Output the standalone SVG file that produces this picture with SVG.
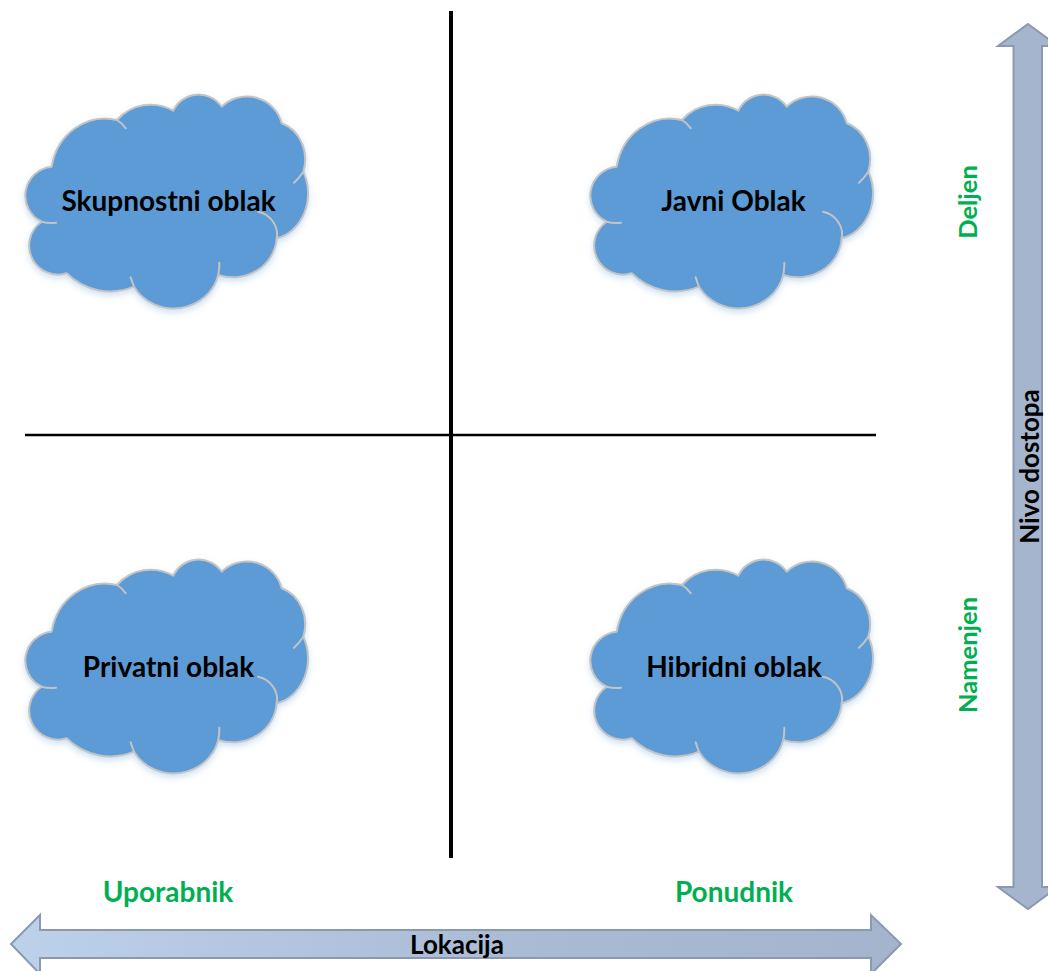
<svg xmlns="http://www.w3.org/2000/svg" width="1048" height="971" viewBox="0 0 1048 971">
<style>
.cl{fill:#5b9bd5;stroke:#c4c4c4;stroke-width:2;stroke-linejoin:round}
.in{fill:none;stroke:#c4c4c4;stroke-width:2;stroke-linecap:round}
.t{font-family:Lato,"Liberation Sans",sans-serif;font-weight:700;font-size:28px;fill:#000;text-anchor:middle}
.s{font-size:26px}
.v{font-size:25.500px}
.g{fill:#00b050}
.ar{stroke:#8a99b0;stroke-width:2;stroke-linejoin:miter}
.ln{stroke:#000;fill:none}
</style>
<defs>
<linearGradient id="hg" x1="0" x2="1" y1="0" y2="0"><stop offset="0" stop-color="#bed1ea"/><stop offset="0.6" stop-color="#a9bad3"/><stop offset="1" stop-color="#a3b4cc"/></linearGradient>
<filter id="sh" x="-10%" y="-10%" width="120%" height="125%"><feDropShadow dx="0" dy="3" stdDeviation="3" flood-color="#5b9bd5" flood-opacity="0.3"/></filter>
<g id="cloud">
<path class="cl" filter="url(#sh)" d="M51.700 166.700A54 58 0 0 1 117 120A45 45 0 0 1 173.300 110.700A28 28 0 0 1 221.700 106.700A36 36 0 0 1 281.700 123.300A34 38 0 0 1 303.300 171.700A40 46 0 0 1 276.700 238.300A44 42 0 0 1 218.300 275A46 44 0 0 1 134 286.700A62 62 0 0 1 66.700 273.300A29 29 0 0 1 41.700 221.700A29 29 0 0 1 51.700 166.700Z"/>
<path class="in" d="M117 120Q122 123 125.700 128.300M303.300 171.700Q300 177 294 182.700M258 211.700C270 214 279 226 276.700 238.300M218.300 275Q219.500 268 219.300 262.700M134 286.700Q132 282 130.700 277.300M41.700 221.700Q48 223.500 56 222.700"/>
</g>
</defs>
<g id="connectors">
<path class="ln" stroke-width="4" d="M451 11V858"/>
<path class="ln" stroke-width="2.500" d="M25 435H876"/>
</g>
<g id="node-skupnostni"><use href="#cloud"/><text class="t" x="168.500" y="211">Skupnostni oblak</text></g>
<g id="node-javni"><use href="#cloud" x="565"/><text class="t" x="733.500" y="211">Javni Oblak</text></g>
<g id="node-privatni"><use href="#cloud" y="465"/><text class="t" x="168.500" y="677">Privatni oblak</text></g>
<g id="node-hibridni"><use href="#cloud" x="565" y="465"/><text class="t" x="734" y="677">Hibridni oblak</text></g>
<g id="arrow-lokacija">
<path class="ar" fill="url(#hg)" d="M11 944L40 915V930H871V915L901 944L871 974V958H40V974Z"/>
<text class="t s" x="457" y="954">Lokacija</text>
</g>
<g id="arrow-nivo">
<path class="ar" fill="#a5b5cd" d="M1028 24L1058 46H1042V887H1058L1028 909L998 887H1013.500V46H998Z"/>
<text class="t s" transform="translate(1039 466.500) rotate(-90)">Nivo dostopa</text>
</g>
<g id="labels">
<text class="t g" x="168" y="902">Uporabnik</text>
<text class="t g" x="734" y="902">Ponudnik</text>
<text class="t g v" transform="translate(977 202) rotate(-90)">Deljen</text>
<text class="t g v" transform="translate(977 655) rotate(-90)">Namenjen</text>
</g>
</svg>
